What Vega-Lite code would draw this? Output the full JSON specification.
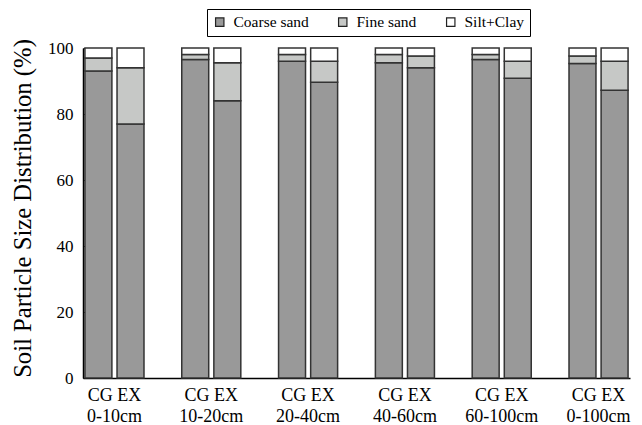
{
  "$schema": "https://vega.github.io/schema/vega-lite/v6.json",
  "width": 547,
  "height": 330,
  "autosize": {"type": "none"},
  "padding": {"left": 83, "top": 48, "right": 12, "bottom": 47},
  "background": "white",
  "data": {
    "values": [
      {"depth": "0-10cm", "trt": "CG", "fraction": "Coarse sand", "ord": 1, "pct": 93},
      {"depth": "0-10cm", "trt": "CG", "fraction": "Fine sand", "ord": 2, "pct": 4},
      {"depth": "0-10cm", "trt": "CG", "fraction": "Silt+Clay", "ord": 3, "pct": 3},
      {"depth": "0-10cm", "trt": "EX", "fraction": "Coarse sand", "ord": 1, "pct": 77},
      {"depth": "0-10cm", "trt": "EX", "fraction": "Fine sand", "ord": 2, "pct": 17},
      {"depth": "0-10cm", "trt": "EX", "fraction": "Silt+Clay", "ord": 3, "pct": 6},
      {"depth": "10-20cm", "trt": "CG", "fraction": "Coarse sand", "ord": 1, "pct": 96.5},
      {"depth": "10-20cm", "trt": "CG", "fraction": "Fine sand", "ord": 2, "pct": 1.5},
      {"depth": "10-20cm", "trt": "CG", "fraction": "Silt+Clay", "ord": 3, "pct": 2},
      {"depth": "10-20cm", "trt": "EX", "fraction": "Coarse sand", "ord": 1, "pct": 84},
      {"depth": "10-20cm", "trt": "EX", "fraction": "Fine sand", "ord": 2, "pct": 11.5},
      {"depth": "10-20cm", "trt": "EX", "fraction": "Silt+Clay", "ord": 3, "pct": 4.5},
      {"depth": "20-40cm", "trt": "CG", "fraction": "Coarse sand", "ord": 1, "pct": 96},
      {"depth": "20-40cm", "trt": "CG", "fraction": "Fine sand", "ord": 2, "pct": 2},
      {"depth": "20-40cm", "trt": "CG", "fraction": "Silt+Clay", "ord": 3, "pct": 2},
      {"depth": "20-40cm", "trt": "EX", "fraction": "Coarse sand", "ord": 1, "pct": 89.6},
      {"depth": "20-40cm", "trt": "EX", "fraction": "Fine sand", "ord": 2, "pct": 6.4},
      {"depth": "20-40cm", "trt": "EX", "fraction": "Silt+Clay", "ord": 3, "pct": 4},
      {"depth": "40-60cm", "trt": "CG", "fraction": "Coarse sand", "ord": 1, "pct": 95.5},
      {"depth": "40-60cm", "trt": "CG", "fraction": "Fine sand", "ord": 2, "pct": 2.5},
      {"depth": "40-60cm", "trt": "CG", "fraction": "Silt+Clay", "ord": 3, "pct": 2},
      {"depth": "40-60cm", "trt": "EX", "fraction": "Coarse sand", "ord": 1, "pct": 94},
      {"depth": "40-60cm", "trt": "EX", "fraction": "Fine sand", "ord": 2, "pct": 3.6},
      {"depth": "40-60cm", "trt": "EX", "fraction": "Silt+Clay", "ord": 3, "pct": 2.4},
      {"depth": "60-100cm", "trt": "CG", "fraction": "Coarse sand", "ord": 1, "pct": 96.5},
      {"depth": "60-100cm", "trt": "CG", "fraction": "Fine sand", "ord": 2, "pct": 1.5},
      {"depth": "60-100cm", "trt": "CG", "fraction": "Silt+Clay", "ord": 3, "pct": 2},
      {"depth": "60-100cm", "trt": "EX", "fraction": "Coarse sand", "ord": 1, "pct": 90.8},
      {"depth": "60-100cm", "trt": "EX", "fraction": "Fine sand", "ord": 2, "pct": 5.2},
      {"depth": "60-100cm", "trt": "EX", "fraction": "Silt+Clay", "ord": 3, "pct": 4},
      {"depth": "0-100cm", "trt": "CG", "fraction": "Coarse sand", "ord": 1, "pct": 95.3},
      {"depth": "0-100cm", "trt": "CG", "fraction": "Fine sand", "ord": 2, "pct": 2.3},
      {"depth": "0-100cm", "trt": "CG", "fraction": "Silt+Clay", "ord": 3, "pct": 2.4},
      {"depth": "0-100cm", "trt": "EX", "fraction": "Coarse sand", "ord": 1, "pct": 87.2},
      {"depth": "0-100cm", "trt": "EX", "fraction": "Fine sand", "ord": 2, "pct": 8.8},
      {"depth": "0-100cm", "trt": "EX", "fraction": "Silt+Clay", "ord": 3, "pct": 4}
    ]
  },
  "mark": {"type": "bar", "stroke": "#333333", "strokeWidth": 1.5},
  "encoding": {
    "x": {
      "field": "depth",
      "type": "nominal",
      "sort": ["0-10cm", "10-20cm", "20-40cm", "40-60cm", "60-100cm", "0-100cm"],
      "scale": {"paddingInner": 0.39, "paddingOuter": 0.02},
      "axis": {
        "title": null,
        "ticks": false,
        "domainColor": "black",
        "domainWidth": 1.5,
        "labelAngle": 0,
        "labelFont": "Liberation Serif",
        "labelFontSize": 18,
        "labelColor": "black",
        "labelPadding": 8,
        "labelLineHeight": 21,
        "labelExpr": "['CG EX', datum.label]"
      }
    },
    "xOffset": {"field": "trt", "type": "nominal", "sort": ["CG", "EX"], "scale": {"paddingInner": 0.16}},
    "y": {
      "field": "pct",
      "type": "quantitative",
      "stack": "zero",
      "scale": {"domain": [0, 100], "nice": false},
      "axis": {
        "title": "Soil Particle Size Distribution (%)",
        "titleFont": "Liberation Serif",
        "titleFontSize": 24.7,
        "titleFontWeight": "normal",
        "titleColor": "black",
        "titlePadding": 12,
        "titleY": 160,
        "values": [0, 20, 40, 60, 80, 100],
        "grid": false,
        "domainColor": "black",
        "domainWidth": 1.5,
        "tickColor": "black",
        "tickSize": -4,
        "labelFont": "Liberation Serif",
        "labelFontSize": 17,
        "labelColor": "black",
        "labelPadding": 14
      }
    },
    "color": {
      "field": "fraction",
      "type": "nominal",
      "sort": ["Coarse sand", "Fine sand", "Silt+Clay"],
      "scale": {"domain": ["Coarse sand", "Fine sand", "Silt+Clay"], "range": ["#999999", "#c6c8c6", "#ffffff"]},
      "legend": {
        "title": null,
        "orient": "none",
        "legendX": 124,
        "legendY": -39,
        "direction": "horizontal",
        "symbolType": "square",
        "symbolSize": 70,
        "symbolStrokeColor": "#222222",
        "symbolStrokeWidth": 1.2,
        "symbolOpacity": 1,
        "labelFont": "Liberation Serif",
        "labelFontSize": 15.5,
        "labelOffset": 6,
        "labelColor": "black",
        "columnPadding": 26,
        "padding": 5,
        "strokeColor": "black",
        "fillColor": "white"
      }
    },
    "order": {"field": "ord", "type": "quantitative"}
  },
  "config": {
    "view": {"stroke": null},
    "legend": {"labelFont": "Liberation Serif", "labelFontSize": 15.5}
  }
}
